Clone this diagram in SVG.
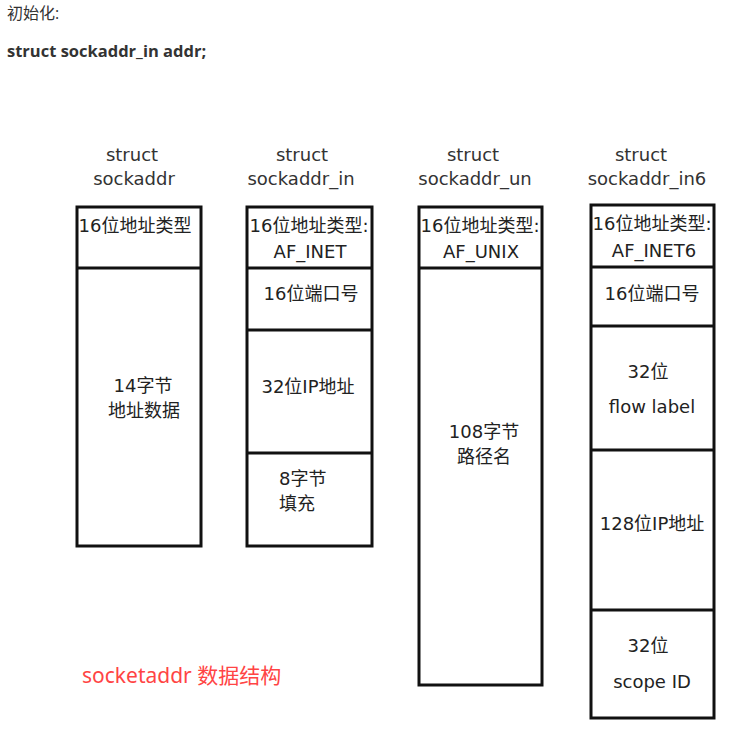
<svg xmlns="http://www.w3.org/2000/svg" width="747" height="736" viewBox="0 0 747 736">
<style>
.box{fill:#fff;stroke:#111;stroke-width:3}
.div{stroke:#111;stroke-width:3}
.t{font-family:"DejaVu Sans","Noto Sans CJK SC",sans-serif;font-size:18px;fill:#222;text-anchor:middle}
.l{font-family:"DejaVu Sans","Noto Sans CJK SC",sans-serif;font-size:18px;fill:#222;text-anchor:start}
.h{font-family:"DejaVu Sans","Noto Sans CJK SC",sans-serif;font-size:18px;fill:#333;text-anchor:middle}
.top{font-family:"Open Sans","Noto Sans CJK SC",sans-serif;font-size:16px;fill:#333}
.topb{font-family:"Open Sans","Noto Sans CJK SC",sans-serif;font-size:16.5px;font-weight:bold;fill:#333}
</style>
<rect width="747" height="736" fill="#fff"/>
<text class="top" x="7" y="19">初始化:</text>
<text class="topb" x="7" y="57">struct sockaddr_in addr;</text>

<g id="sockaddr">
<text class="h" x="132" y="161">struct</text>
<text class="h" x="134" y="185">sockaddr</text>
<rect class="box" x="77" y="207" width="124" height="339"/>
<line class="div" x1="77" y1="268" x2="201" y2="268"/>
<text class="t" x="135" y="232">16位地址类型</text>
<text class="t" x="143" y="392">14字节</text>
<text class="t" x="144" y="417">地址数据</text>
</g>

<g id="sockaddr_in">
<text class="h" x="302" y="161">struct</text>
<text class="h" x="301" y="185">sockaddr_in</text>
<rect class="box" x="247" y="207" width="125" height="339"/>
<line class="div" x1="247" y1="268" x2="372" y2="268"/>
<line class="div" x1="247" y1="330" x2="372" y2="330"/>
<line class="div" x1="247" y1="453" x2="372" y2="453"/>
<text class="t" x="309" y="232">16位地址类型:</text>
<text class="t" x="310" y="258">AF_INET</text>
<text class="t" x="311" y="300">16位端口号</text>
<text class="t" x="308" y="393">32位IP地址</text>
<text class="l" x="279" y="485">8字节</text>
<text class="l" x="279" y="510">填充</text>
</g>

<g id="sockaddr_un">
<text class="h" x="473" y="161">struct</text>
<text class="h" x="475" y="185">sockaddr_un</text>
<rect class="box" x="419" y="207" width="123" height="478"/>
<line class="div" x1="419" y1="268" x2="542" y2="268"/>
<text class="t" x="480" y="232">16位地址类型:</text>
<text class="t" x="481" y="258">AF_UNIX</text>
<text class="t" x="484" y="438">108字节</text>
<text class="t" x="484" y="463">路径名</text>
</g>

<g id="sockaddr_in6">
<text class="h" x="641" y="161">struct</text>
<text class="h" x="647" y="185">sockaddr_in6</text>
<rect class="box" x="591" y="205" width="123" height="513"/>
<line class="div" x1="591" y1="267" x2="714" y2="267"/>
<line class="div" x1="591" y1="326" x2="714" y2="326"/>
<line class="div" x1="591" y1="450" x2="714" y2="450"/>
<line class="div" x1="591" y1="610" x2="714" y2="610"/>
<text class="t" x="652" y="230">16位地址类型:</text>
<text class="t" x="654" y="257">AF_INET6</text>
<text class="t" x="652" y="300">16位端口号</text>
<text class="t" x="648" y="378">32位</text>
<text class="t" x="652" y="413">flow label</text>
<text class="t" x="652" y="530">128位IP地址</text>
<text class="t" x="648" y="652">32位</text>
<text class="t" x="652" y="688">scope ID</text>
</g>

<text x="82" y="683" font-family="'Noto Sans','Noto Sans CJK SC',sans-serif" font-size="21" fill="#f44">socketaddr 数据结构</text>
</svg>
